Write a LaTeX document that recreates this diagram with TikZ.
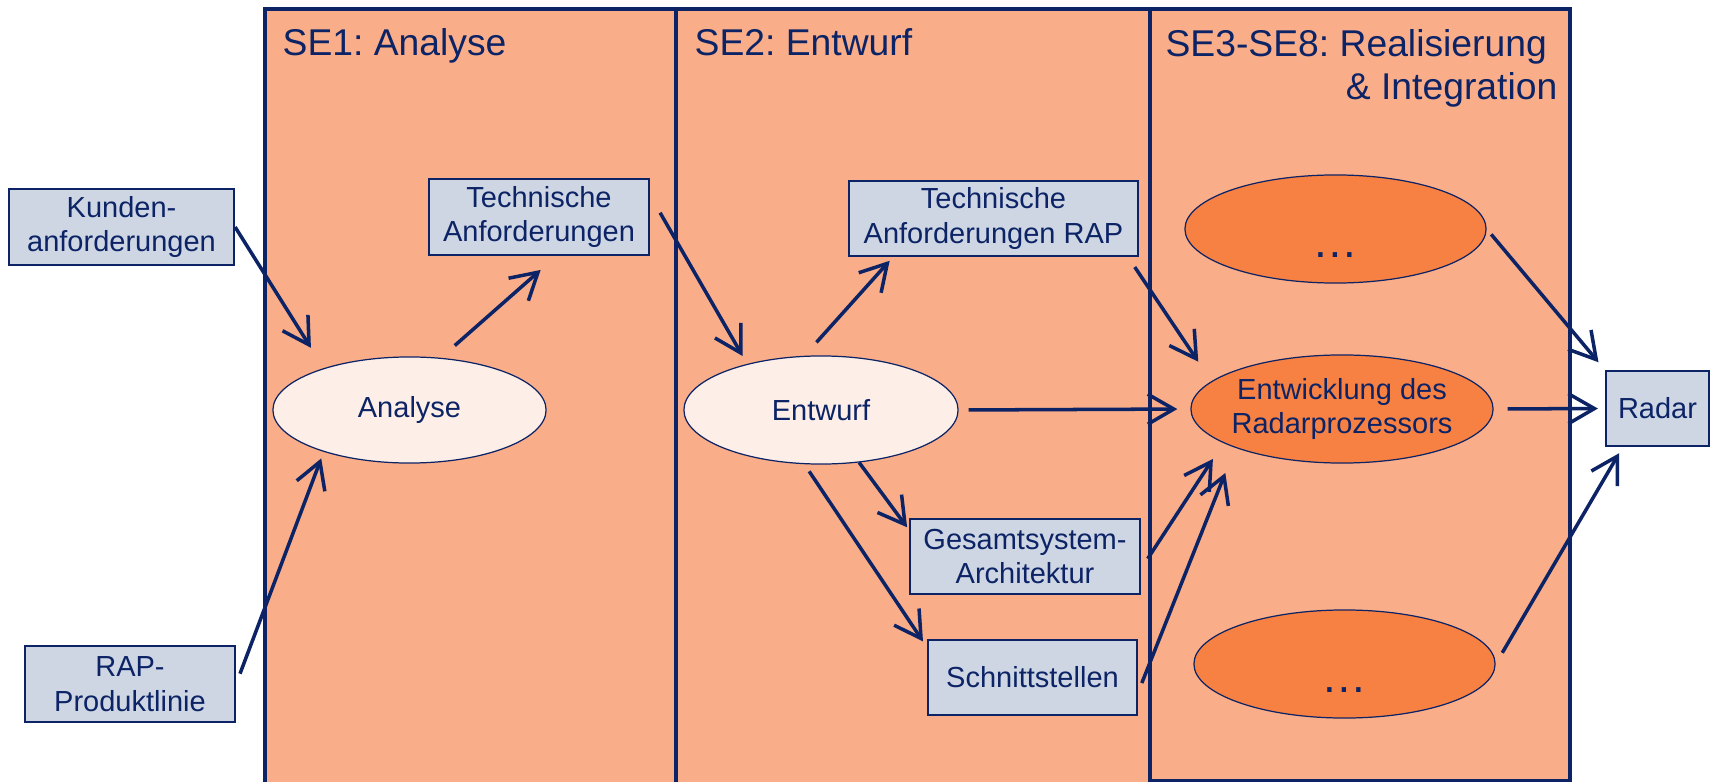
\documentclass[tikz,border=0pt]{standalone}
\usepackage{fontspec}
\setmainfont{Liberation Sans}
\usetikzlibrary{arrows.meta,shapes.geometric}

\definecolor{navy}{RGB}{12,35,102}
\definecolor{salmon}{RGB}{249,174,137}
\definecolor{steel}{RGB}{206,214,227}
\definecolor{cream}{RGB}{253,239,231}
\definecolor{devorange}{RGB}{247,129,66}

\frenchspacing
\newcommand{\phasefont}{\fontsize{10.6}{12.3}\selectfont}
\newcommand{\artfont}{\fontsize{8.25}{9.8}\selectfont}
\newcommand{\dotfont}{\fontsize{13}{15}\selectfont}

\tikzset{
  phase/.style={draw=navy, line width=0.9pt, fill=salmon},
  phasetitle/.style={font=\phasefont, text=navy, inner sep=0pt},
  artefact/.style={draw=navy, line width=0.6pt, fill=steel, text=navy, font=\artfont, align=center, inner sep=0pt},
  activity/.style={ellipse, draw=navy, line width=0.35pt, fill=cream, text=navy, font=\artfont, align=center, inner xsep=-0.1cm, inner ysep=0pt},
  devel/.style={activity, fill=devorange},
  flow/.style={draw=navy, line width=1pt, -{Straight Barb[length=0.26cm,width=0.3cm]}}
}

\begin{document}
\begin{tikzpicture}[x=0.01cm, y=-0.01cm]
        \useasboundingbox (0,0) rectangle (1712,782);

        % Draw the three phases with their titles
        \draw[phase] (265,9) rectangle (676,795);
        \draw[phase] (676,9) rectangle (1150,795);
        \draw[phase] (1150,9) rectangle (1570,781);
        \node[phasetitle, anchor=base west] (se1) at (282,56) {SE1: Analyse};
        \node[phasetitle, anchor=base west] (se2) at (694,56) {SE2: Entwurf};
        \node[phasetitle, anchor=north east, align=right] (se38) at (1558,29) {SE3-SE8: Realisierung\kern0.28em\\\& Integration};

        % Draw the inputs
        \node[artefact, minimum width=2.25cm, minimum height=0.76cm] (kunden) at (121.5,227) {Kunden-\\anforderungen};
        \node[artefact, minimum width=2.1cm, minimum height=0.76cm] (rap) at (130,684) {RAP-\\Produktlinie};

        % Draw SE1
        \node[activity, minimum width=2.73cm, minimum height=1.06cm] (analyse) at (409.5,410) {Analyse};
        \node[artefact, minimum width=2.2cm, minimum height=0.76cm] (techA) at (539,217) {Technische\\Anforderungen};

        % Draw SE2
        \node[activity, minimum width=2.74cm, minimum height=1.08cm] (entwurf) at (821,410) {Entwurf};
        \node[artefact, minimum width=2.89cm, minimum height=0.75cm] (techRAP) at (993.5,218.5) {Technische\\Anforderungen RAP};
        \node[artefact, minimum width=2.3cm, minimum height=0.75cm] (gesamt) at (1025,556.5) {Gesamtsystem-\\Architektur};
        \node[artefact, minimum width=2.09cm, minimum height=0.75cm] (schnitt) at (1032.5,677.5) {Schnittstellen};

        % Draw SE3-SE8 and the output
        \node[devel, minimum width=3.01cm, minimum height=1.08cm] (dotsTop) at (1335.5,229) {\dotfont\rule{0pt}{0.56cm}…};
        \node[devel, minimum width=3.02cm, minimum height=1.08cm] (entw) at (1342,409) {Entwicklung des\\Radarprozessors};
        \node[devel, minimum width=3.01cm, minimum height=1.08cm] (dotsBot) at (1344.5,664) {\dotfont\rule{0pt}{0.56cm}…};
        \node[artefact, minimum width=1.03cm, minimum height=0.75cm] (radar) at (1657.5,408.5) {Radar};

        % Draw the flows
        \draw[flow, shorten >=0.24cm] (kunden.east) -- (analyse.154);
        \draw[flow, shorten <=0.11cm, shorten >=0.07cm] (rap.east) -- (analyse.206);
        \draw[flow, shorten <=0.185cm, shorten >=0.21cm] (analyse.59) -- (techA.-66);
        \draw[flow, shorten <=0.2cm, shorten >=0.09cm] (techA.11) -- (entwurf.148);
        \draw[flow, shorten <=0.18cm, shorten >=0.05cm] (entwurf.107) -- (techRAP.201);
        \draw[flow, shorten <=0.1cm, shorten >=0.13cm] (entwurf.east) -- (entw.west);
        \draw[flow, shorten <=0.12cm, shorten >=0.235cm] (techRAP.-16) -- (entw.168);
        \draw[flow, shorten >=0.03cm] (entwurf.-54) -- (gesamt.167);
        \draw[flow, shorten <=0.085cm, shorten >=0.07cm] (entwurf.253) -- (schnitt.164);
        \draw[flow, shorten <=0.12cm, shorten >=0.19cm] (gesamt.-6) -- (entw.196);
        \draw[flow, shorten <=0.1cm, shorten >=0.27cm] (schnitt.-8) -- (entw.200);
        \draw[flow, shorten <=0.07cm, shorten >=0.1cm] (dotsTop.east) -- (radar.north west);
        \draw[flow, shorten <=0.14cm, shorten >=0.07cm] (entw.east) -- (radar.west);
        \draw[flow, shorten <=0.13cm, shorten >=0.07cm] (dotsBot.east) -- (radar.228);
\end{tikzpicture}
\end{document}
